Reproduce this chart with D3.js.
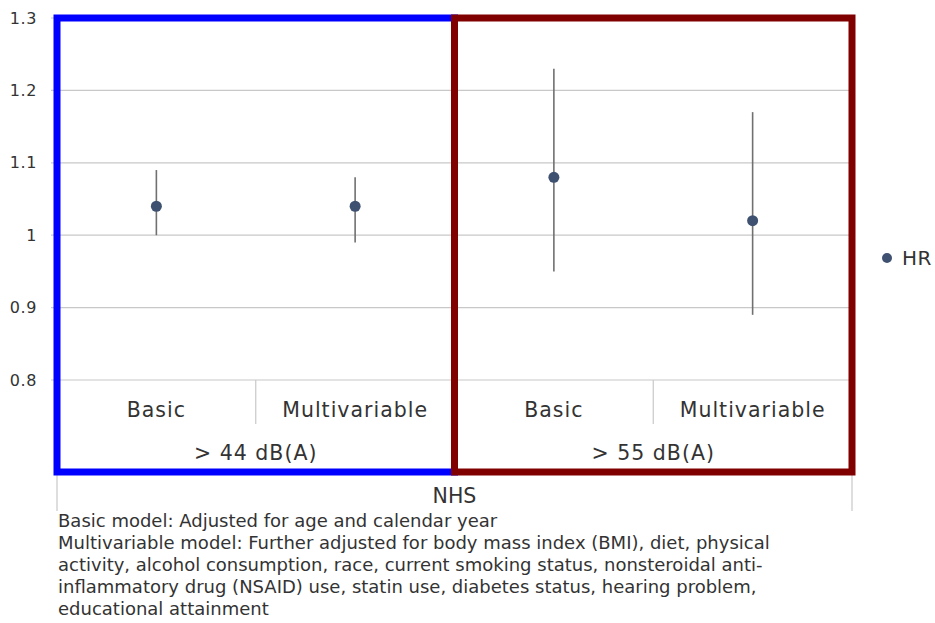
<!DOCTYPE html>
<html>
<head>
<meta charset="utf-8">
<script src="https://cdn.jsdelivr.net/npm/d3@7"></script>
<style>
  body { margin: 0; background: #fff; }
  text { fill: #333; }
</style>
</head>
<body>
<svg id="svg"></svg>
<script>
// chart values
const models = ["Basic", "Multivariable"];
const groups = ["> 44 dB(A)", "> 55 dB(A)"];
const hr = [1.04, 1.04, 1.08, 1.02];
const lower = [1.00, 0.99, 0.95, 0.89];
const upper = [1.09, 1.08, 1.23, 1.17];
const yTicks = [0.8, 0.9, 1.0, 1.1, 1.2, 1.3];
const boxColours = ["#0000ff", "#800000"];
const cohort = "NHS";
const notes = [
    "Basic model: Adjusted for age and calendar year",
    "Multivariable model: Further adjusted for body mass index (BMI), diet, physical",
    "activity, alcohol consumption, race, current smoking status, nonsteroidal anti-",
    "inflammatory drug (NSAID) use, statin use, diabetes status, hearing problem,",
    "educational attainment"
];

const width = 935;
const height = 623;
let svg = d3.select("#svg").attr("width", width).attr("height", height);

// one key per point: group index + model
let keys = [];
groups.forEach((g, gi) => models.forEach(m => keys.push(gi + "|" + m)));

let xScale = d3.scaleBand().domain(keys).range([57, 852]);
let yScale = d3.scaleLinear().domain([0.8, 1.3]).range([380, 18]);
const bottomY = 472;

// gridlines + y labels
let grid = svg.append("g");
grid.selectAll("line")
    .data(yTicks)
    .join("line")
    .attr("x1", 51).attr("x2", 852)
    .attr("y1", d => yScale(d)).attr("y2", d => yScale(d))
    .attr("stroke", "#c8c8c8").attr("stroke-width", 1.2);
grid.selectAll("text")
    .data(yTicks)
    .join("text")
    .attr("x", 37)
    .attr("y", d => yScale(d))
    .attr("dy", "0.35em")
    .attr("text-anchor", "end")
    .attr("font-family", "DejaVu Sans")
    .attr("font-size", "16px")
    .attr("letter-spacing", "0.6px")
    .text(d => d3.format("")(+d.toFixed(1)));

// category axis
let cat = svg.append("g")
    .attr("font-family", "DejaVu Sans")
    .attr("font-size", "20.5px")
    .attr("letter-spacing", "1px");
// dividers between models inside a group
cat.selectAll("line.div")
    .data(keys.filter(k => k.endsWith("Basic")))
    .join("line")
    .attr("class", "div")
    .attr("x1", d => xScale(d) + xScale.bandwidth())
    .attr("x2", d => xScale(d) + xScale.bandwidth())
    .attr("y1", yScale(0.8)).attr("y2", 424)
    .attr("stroke", "#c8c8c8").attr("stroke-width", 1.2);
// outer lines of the cohort level
cat.selectAll("line.outer")
    .data(xScale.range())
    .join("line")
    .attr("class", "outer")
    .attr("x1", d => d).attr("x2", d => d)
    .attr("y1", yScale(0.8)).attr("y2", 511)
    .attr("stroke", "#c8c8c8").attr("stroke-width", 1.2);
cat.selectAll("text.model")
    .data(keys)
    .join("text")
    .attr("class", "model")
    .attr("x", d => xScale(d) + xScale.bandwidth() / 2)
    .attr("y", 417)
    .attr("text-anchor", "middle")
    .text(d => d.split("|")[1]);
cat.selectAll("text.group")
    .data(groups)
    .join("text")
    .attr("class", "group")
    .attr("x", (d, i) => xScale(i + "|" + models[0]) + xScale.bandwidth())
    .attr("y", 460)
    .attr("text-anchor", "middle")
    .text(d => d);
cat.append("text")
    .attr("x", d3.mean(xScale.range()))
    .attr("y", 503)
    .attr("text-anchor", "middle")
    .attr("letter-spacing", "0px")
    .text(cohort);

// error bars and points
let pts = svg.append("g");
pts.selectAll("line")
    .data(keys)
    .join("line")
    .attr("x1", d => xScale(d) + xScale.bandwidth() / 2)
    .attr("x2", d => xScale(d) + xScale.bandwidth() / 2)
    .attr("y1", (d, i) => yScale(lower[i]))
    .attr("y2", (d, i) => yScale(upper[i]))
    .attr("stroke", "#707070").attr("stroke-width", 1.6);
pts.selectAll("circle")
    .data(keys)
    .join("circle")
    .attr("cx", d => xScale(d) + xScale.bandwidth() / 2)
    .attr("cy", (d, i) => yScale(hr[i]))
    .attr("r", 5.5)
    .attr("fill", "#3e5170");

// highlight boxes around each group
svg.append("g").selectAll("rect")
    .data(groups)
    .join("rect")
    .attr("x", (d, i) => xScale(i + "|" + models[0]))
    .attr("y", yScale(1.3))
    .attr("width", xScale.bandwidth() * models.length)
    .attr("height", (d) => bottomY - yScale(1.3))
    .attr("fill", "none")
    .attr("stroke", (d, i) => boxColours[i])
    .attr("stroke-width", 7);

// legend
let legend = svg.append("g");
legend.append("circle")
    .attr("cx", 887).attr("cy", 258).attr("r", 5)
    .attr("fill", "#3e5170");
legend.append("text")
    .attr("x", 902).attr("y", 258).attr("dy", "0.35em")
    .attr("font-family", "DejaVu Sans")
    .attr("font-size", "20px")
    .attr("letter-spacing", "0.5px")
    .text("HR");

// footnote
svg.append("g").selectAll("text")
    .data(notes)
    .join("text")
    .attr("x", 58)
    .attr("y", (d, i) => 527 + i * 22)
    .attr("font-family", "DejaVu Sans")
    .attr("font-size", "18px")
    .attr("fill", "#222")
    .text(d => d);
</script>
</body>
</html>
